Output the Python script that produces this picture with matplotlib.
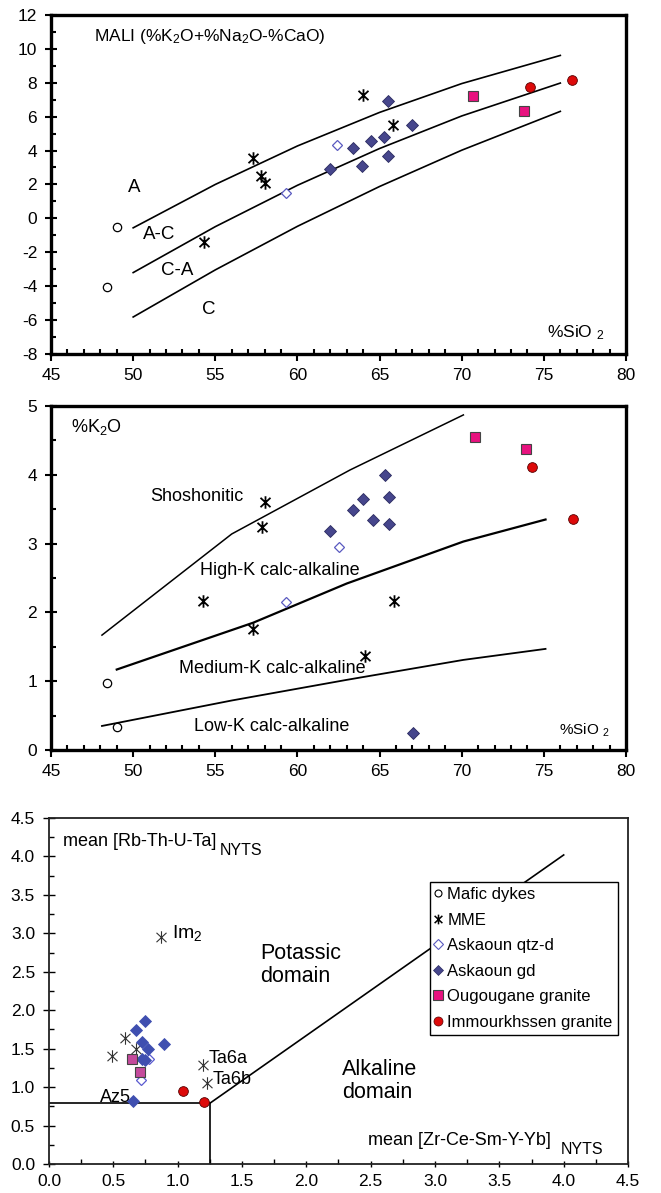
import matplotlib
matplotlib.use("Agg")
import matplotlib.pyplot as plt
from matplotlib.path import Path
from matplotlib.lines import Line2D
from matplotlib.ticker import MultipleLocator, FormatStrFormatter

plt.rcParams['font.family'] = ['Liberation Sans', 'DejaVu Sans']
plt.rcParams['mathtext.fontset'] = 'custom'
plt.rcParams['mathtext.rm'] = 'Liberation Sans'
plt.rcParams['mathtext.it'] = 'Liberation Sans:italic'
plt.rcParams['mathtext.bf'] = 'Liberation Sans:bold'
plt.rcParams['axes.unicode_minus'] = False

# ---- panel 1 : MALI vs SiO2 ----
mafic_si_1 = [49.0, 48.4]
mafic_mali = [-0.5, -4.05]
mme_si_1 = [57.3, 57.8, 58.0, 54.3, 64.0, 65.8]
mme_mali = [3.55, 2.5, 2.1, -1.4, 7.3, 5.5]
qtzd_si_1 = [62.4, 59.3]
qtzd_mali = [4.35, 1.5]
gd_si_1 = [62.0, 63.4, 63.9, 64.5, 65.25, 65.5, 65.5, 67.0]
gd_mali = [2.9, 4.15, 3.1, 4.55, 4.8, 6.9, 3.7, 5.5]
oug_si_1 = [70.7, 73.8]
oug_mali = [7.2, 6.35]
imm_si_1 = [74.15, 76.7]
imm_mali = [7.75, 8.15]

# boundary curves
curve_si = [50, 55, 60, 65, 70, 76]
curve_a_ac = [-0.56, 2.00, 4.27, 6.25, 7.95, 9.61]
curve_ac_ca = [-3.2, -0.49, 1.95, 4.12, 6.04, 7.98]
curve_ca_c = [-5.82, -3.04, -0.47, 1.88, 4.02, 6.31]

# ---- panel 2 : K2O vs SiO2 ----
mafic_si_2 = [48.4, 49.0]
mafic_k2o = [0.97, 0.33]
mme_si_2 = [58.0, 57.85, 54.25, 57.3, 64.1, 65.9]
mme_k2o = [3.6, 3.24, 2.17, 1.76, 1.37, 2.17]
qtzd_si_2 = [62.5, 59.3]
qtzd_k2o = [2.95, 2.15]
gd_si_2 = [65.3, 64.0, 65.55, 63.4, 64.6, 65.55, 62.0, 67.05]
gd_k2o = [4.0, 3.65, 3.67, 3.49, 3.35, 3.28, 3.18, 0.25]
oug_si_2 = [70.8, 73.9]
oug_k2o = [4.55, 4.38]
imm_si_2 = [74.25, 76.8]
imm_k2o = [4.11, 3.36]

shosh_si = [48.1, 56.0, 63.2, 70.1]
shosh_k = [1.67, 3.14, 4.07, 4.87]
highk_si = [49.0, 57.3, 63.0, 70.1, 75.1]
highk_k = [1.17, 1.85, 2.42, 3.03, 3.35]
lowk_si = [48.1, 56.0, 63.0, 70.1, 75.1]
lowk_k = [0.35, 0.72, 1.02, 1.31, 1.47]

# ---- panel 3 : mean Rb-Th-U-Ta vs mean Zr-Ce-Sm-Y-Yb ----
mme_x3 = [0.87, 0.59, 0.675, 0.49, 1.195, 1.225]
mme_y3 = [2.95, 1.64, 1.50, 1.41, 1.29, 1.05]
qtzd_x3 = [0.775, 0.715]
qtzd_y3 = [1.36, 1.09]
gd_x3 = [0.75, 0.68, 0.72, 0.89, 0.77, 0.72, 0.745, 0.655]
gd_y3 = [1.86, 1.74, 1.59, 1.56, 1.50, 1.36, 1.35, 0.82]
oug_x3 = [0.645, 0.71]
oug_y3 = [1.36, 1.20]
imm_x3 = [1.045, 1.205]
imm_y3 = [0.95, 0.81]

box_x = [0, 1.25, 1.25]
box_y = [0.79, 0.79, 0]
diag_x = [1.25, 4.0]
diag_y = [0.79, 4.02]

legend_labels = ['Mafic dykes', 'MME', 'Askaoun qtz-d', 'Askaoun gd',
                 'Ougougane granite', 'Immourkhssen granite']

# asterisk marker (X + vertical bar, like the spreadsheet one)
star = Path([(0, -1), (0, 1), (-0.8, -0.75), (0.8, 0.75), (-0.8, 0.75), (0.8, -0.75)],
            [Path.MOVETO, Path.LINETO] * 3)

GD = '#46468c'
QTZ = '#5a5ac0'
PINK = '#e8127f'
RED = '#dd0a0a'


def style_axes(ax, lw_spine, tick_w, xmaj, xmin, ymaj, ymin, x_dir='out', y_dir='inout'):
    for s in ax.spines.values():
        s.set_linewidth(lw_spine)
    ax.xaxis.set_major_locator(MultipleLocator(xmaj))
    ax.xaxis.set_minor_locator(MultipleLocator(xmin))
    ax.yaxis.set_major_locator(MultipleLocator(ymaj))
    ax.yaxis.set_minor_locator(MultipleLocator(ymin))
    ax.tick_params(axis='x', which='major', direction=x_dir, length=5, width=tick_w,
                   labelsize=12.5, pad=5)
    ax.tick_params(axis='y', which='major', direction=y_dir, length=8, width=tick_w,
                   labelsize=12.5, pad=6)
    ax.tick_params(which='minor', direction='in', length=3.5, width=tick_w)
    ax.tick_params(top=False, right=False, which='both')


def scatter_set(ax, data):
    (mx, my), (ax_, ay), (qx, qy), (gx, gy), (ox, oy), (ix, iy) = data
    ax.plot(mx, my, 'o', ms=6, mfc='white', mec='black', mew=0.9, ls='none', zorder=5)
    ax.plot(ax_, ay, marker=star, ms=9, mfc='none', mec='black', mew=1.3, ls='none', zorder=5)
    ax.plot(qx, qy, 'D', ms=5.5, mfc='white', mec=QTZ, mew=0.9, ls='none', zorder=5)
    ax.plot(gx, gy, 'D', ms=6, mfc=GD, mec='#2a2a60', mew=0.6, ls='none', zorder=5)
    ax.plot(ox, oy, 's', ms=7, mfc=PINK, mec='#444444', mew=0.8, ls='none', zorder=5)
    ax.plot(ix, iy, 'o', ms=7, mfc=RED, mec='#550000', mew=0.6, ls='none', zorder=5)


fig = plt.figure(figsize=(6.61, 11.93), dpi=100)

# ---------------- panel 1 ----------------
ax1 = fig.add_axes([0.0772, 0.7033, 0.8699, 0.2842])
for c in (curve_a_ac, curve_ac_ca, curve_ca_c):
    ax1.plot(curve_si, c, color='black', lw=1.2, zorder=2)
scatter_set(ax1, [(mafic_si_1, mafic_mali), (mme_si_1, mme_mali), (qtzd_si_1, qtzd_mali),
                  (gd_si_1, gd_mali), (oug_si_1, oug_mali), (imm_si_1, imm_mali)])
ax1.set_xlim(45, 80)
ax1.set_ylim(-8, 12)
style_axes(ax1, 2.4, 1.5, 5, 1, 2, 1)
ax1.text(47.6, 10.72, r'MALI (%K$_\mathregular{2}$O+%Na$_\mathregular{2}$O-%CaO)', fontsize=12.5,
         va='center', ha='left')
ax1.text(50.06, 1.8, 'A', fontsize=13.5, ha='center', va='center')
ax1.text(51.6, -0.94, 'A-C', fontsize=13.5, ha='center', va='center')
ax1.text(52.7, -3.1, 'C-A', fontsize=13.5, ha='center', va='center')
ax1.text(54.6, -5.4, 'C', fontsize=13.5, ha='center', va='center')
ax1.text(75.2, -6.76, r'%SiO $_\mathregular{2}$', fontsize=12.5, ha='left', va='center')

# ---------------- panel 2 ----------------
ax2 = fig.add_axes([0.0772, 0.3713, 0.8699, 0.2884])
ax2.plot(shosh_si, shosh_k, color='black', lw=1.1, zorder=2)
ax2.plot(highk_si, highk_k, color='black', lw=1.6, zorder=2)
ax2.plot(lowk_si, lowk_k, color='black', lw=1.3, zorder=2)
scatter_set(ax2, [(mafic_si_2, mafic_k2o), (mme_si_2, mme_k2o), (qtzd_si_2, qtzd_k2o),
                  (gd_si_2, gd_k2o), (oug_si_2, oug_k2o), (imm_si_2, imm_k2o)])
ax2.set_xlim(45, 80)
ax2.set_ylim(0, 5)
style_axes(ax2, 2.4, 1.5, 5, 1, 1, 0.5)
ax2.text(46.2, 4.70, r'%K$_\mathregular{2}$O', fontsize=13, ha='left', va='center')
ax2.text(51.06, 3.68, 'Shoshonitic', fontsize=13, ha='left', va='center')
ax2.text(54.05, 2.61, 'High-K calc-alkaline', fontsize=13, ha='left', va='center')
ax2.text(52.77, 1.18, 'Medium-K calc-alkaline', fontsize=13, ha='left', va='center')
ax2.text(53.7, 0.34, 'Low-K calc-alkaline', fontsize=13, ha='left', va='center')
ax2.text(75.9, 0.29, r'%SiO $_\mathregular{2}$', fontsize=11, ha='left', va='center')

# ---------------- panel 3 ----------------
ax3 = fig.add_axes([0.0741, 0.0243, 0.876, 0.29])
ax3.plot(box_x, box_y, color='black', lw=1.2, zorder=2)
ax3.plot(diag_x, diag_y, color='black', lw=1.2, zorder=2)
ax3.plot(mme_x3, mme_y3, marker=star, ms=9, mfc='none', mec='#333333', mew=0.8, ls='none', zorder=5)
ax3.plot(qtzd_x3, qtzd_y3, 'D', ms=5.5, mfc='white', mec='#5a5ad0', mew=0.9, ls='none', zorder=5)
ax3.plot(gd_x3, gd_y3, 'D', ms=6.5, mfc='#3f4fb0', mec='#3f4fb0', mew=0.6, ls='none', zorder=5)
ax3.plot(oug_x3, oug_y3, 's', ms=7, mfc='#c44a9c', mec='#444444', mew=0.8, ls='none', zorder=5)
ax3.plot(imm_x3, imm_y3, 'o', ms=7, mfc=RED, mec='#550000', mew=0.6, ls='none', zorder=5)
ax3.set_xlim(0, 4.5)
ax3.set_ylim(0, 4.5)
style_axes(ax3, 1.3, 1.0, 0.5, 0.25, 0.5, 0.25, x_dir='inout', y_dir='inout')
for s in ax3.spines.values():
    s.set_color('#222222')
ax3.xaxis.set_major_formatter(FormatStrFormatter('%.1f'))
ax3.yaxis.set_major_formatter(FormatStrFormatter('%.1f'))

ax3.text(0.108, 4.19, 'mean [Rb-Th-U-Ta]', fontsize=13, ha='left', va='center')
ax3.text(1.33, 4.08, 'NYTS', fontsize=11.5, ha='left', va='center')
ax3.text(2.48, 0.30, 'mean [Zr-Ce-Sm-Y-Yb]', fontsize=13, ha='left', va='center')
ax3.text(3.98, 0.19, 'NYTS', fontsize=11.5, ha='left', va='center')
ax3.text(0.954, 3.0, r'Im$_\mathregular{2}$', fontsize=14, ha='left', va='center')
ax3.text(1.64, 2.59, 'Potassic\ndomain', fontsize=15.5, ha='left', va='center', linespacing=1.15)
ax3.text(2.28, 1.08, 'Alkaline\ndomain', fontsize=15.5, ha='left', va='center', linespacing=1.15)
ax3.text(1.24, 1.37, 'Ta6a', fontsize=13, ha='left', va='center')
ax3.text(1.275, 1.10, 'Ta6b', fontsize=13, ha='left', va='center')
ax3.text(0.635, 0.87, 'Az5', fontsize=13, ha='right', va='center')

handles = [
    Line2D([], [], ls='none', marker='o', ms=5, mfc='white', mec='black', mew=0.8),
    Line2D([], [], ls='none', marker=star, ms=7, mfc='none', mec='black', mew=1.1),
    Line2D([], [], ls='none', marker='D', ms=5, mfc='white', mec=QTZ, mew=0.8),
    Line2D([], [], ls='none', marker='D', ms=5, mfc=GD, mec='#2a2a60', mew=0.5),
    Line2D([], [], ls='none', marker='s', ms=6.5, mfc=PINK, mec='#444444', mew=0.8),
    Line2D([], [], ls='none', marker='o', ms=6.5, mfc=RED, mec='#550000', mew=0.5),
]
leg = ax3.legend(handles, legend_labels, loc='upper left', bbox_to_anchor=(0.658, 0.815),
                 borderaxespad=0, fontsize=12, frameon=True, fancybox=False,
                 edgecolor='black', framealpha=1, borderpad=0.3, labelspacing=0.63,
                 handlelength=0.4, handletextpad=0.35)
leg.get_frame().set_linewidth(1.0)
leg.set_zorder(10)

fig.savefig('out.png', dpi=100)
